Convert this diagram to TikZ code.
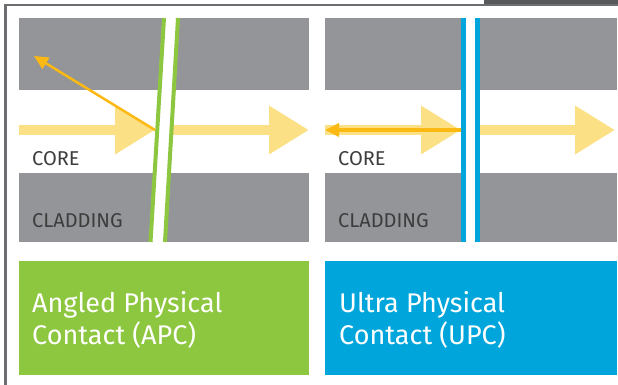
\documentclass[tikz,border=0pt]{standalone}
\usepackage{fontspec}
\setmainfont{Fira Sans}
\usetikzlibrary{calc,arrows.meta}
\definecolor{cladGray}{HTML}{939598}
\definecolor{apcGreen}{HTML}{8DC63F}
\definecolor{upcBlue}{HTML}{00A6DB}
\definecolor{beamYellow}{HTML}{FCE086}
\definecolor{backOrange}{HTML}{FDB913}
\definecolor{labelGray}{HTML}{3D3D3D}
\definecolor{frameGray}{HTML}{6D6E71}
\definecolor{frameDark}{HTML}{58595B}

\begin{document}
\begin{tikzpicture}[x=1pt,y=-1pt,
    beam/.style={beamYellow,line width=10pt,-{Triangle[length=40pt,width=46pt]}},
    back/.style={backOrange,line width=#1,-{Triangle[length=14pt,width=13pt]}},
    layer/.style={anchor=base west,inner sep=0pt,text=labelGray,font=\fontsize{20}{20}\selectfont},
    caption/.style={anchor=base west,inner sep=0pt,text=white,align=left,
      font=\fontsize{27}{32}\selectfont}]
  \useasboundingbox (0,0) rectangle (618,385);

  %% Frame round the figure
  \fill[frameDark] (484,0) rectangle (618,4);
  \draw[frameGray,line width=2.5pt] (5.5,385) -- (5.5,5) -- (618,5);

  %% Both fibres: cladding, core labels and light beam
  \foreach \o/\w/\p in {0/309/A,306/617/U}
  {
    \fill[cladGray] (19+\o,18) rectangle (\w,90);
    \fill[cladGray] (19+\o,173) rectangle (\w,242);
    \node[layer] (CORE\p) at (32+\o,165) {CORE};
    \node[layer] (CLAD\p) at (32+\o,227) {CLADDING};
    \coordinate (IN\p)  at (19+\o,130);
    \coordinate (HIT\p) at (155+\o,130);
    \coordinate (OUT\p) at (172+\o,130);
    \coordinate (END\p) at (309+\o,130);
    \draw[beam] (IN\p) -- (HIT\p);
    \draw[beam] (OUT\p) -- (END\p);
  }

  %% Angled end faces (APC)
  \draw[white,line width=17pt] (171,18) -- (157.75,242);
  \draw[apcGreen,line width=4pt] (164,18) -- (150.5,242);
  \draw[apcGreen,line width=4pt] (178,18) -- (165,242);
  \coordinate (REFA) at (34,56);
  \draw[back=2.5pt] (HITA) -- (REFA);

  %% Flat end faces (UPC)
  \fill[white] (461,18) rectangle (480,242);
  \draw[upcBlue,line width=5pt] (463.5,18) -- (463.5,242);
  \draw[upcBlue,line width=5pt] (477.5,18) -- (477.5,242);
  \coordinate (REFU) at (325,130);
  \draw[back=3.5pt] (HITU) -- (REFU);

  %% Name boxes (base of a two-line caption is its last line)
  \node[fill=apcGreen,anchor=north west,inner sep=0pt,minimum width=290pt,minimum height=114pt] (APC) at (19,261) {};
  \node[fill=upcBlue,anchor=north west,inner sep=0pt,minimum width=292pt,minimum height=114pt] (UPC) at (325,261) {};
  \node[caption] (APCtext) at ($(APC.north west)+(13,83)$) {Angled Physical\\Contact (APC)};
  \node[caption] (UPCtext) at ($(UPC.north west)+(14,83)$) {Ultra Physical\\Contact (UPC)};

\end{tikzpicture}
\end{document}
